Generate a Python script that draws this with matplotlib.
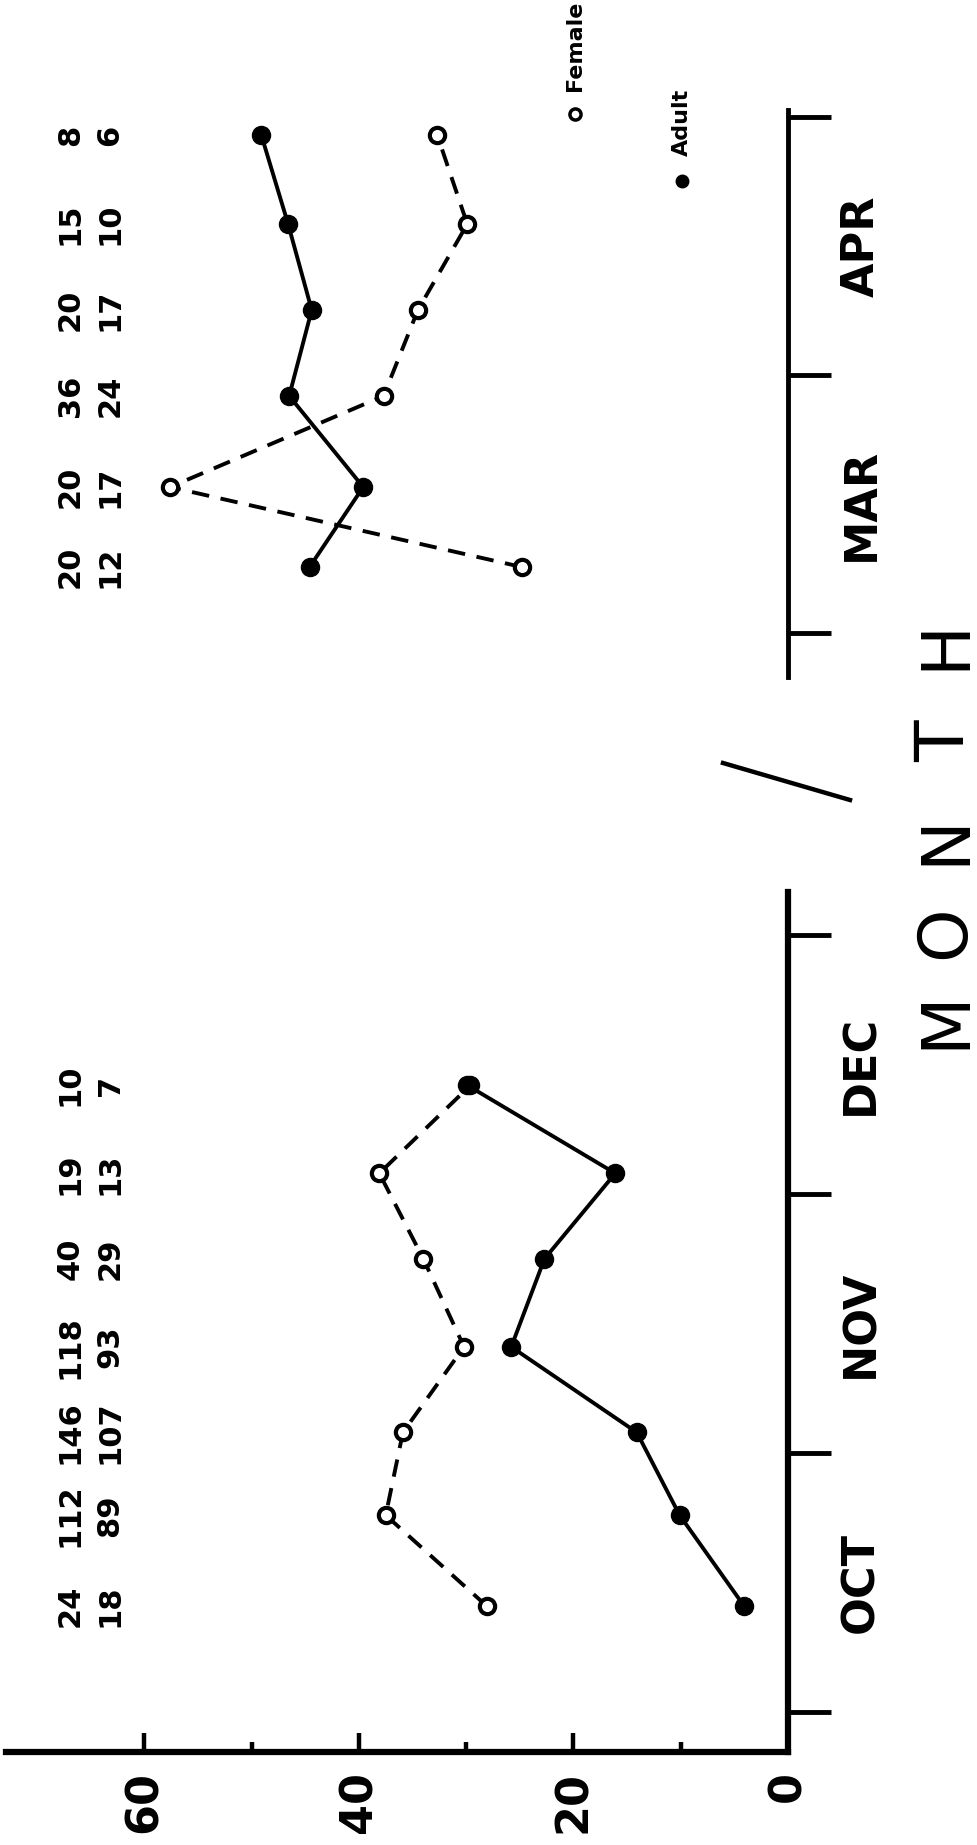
import matplotlib
matplotlib.use('Agg')
import matplotlib.pyplot as plt
from matplotlib.lines import Line2D

# positions are in months: 0 = first of OCT (left block) / first of MAR (right block)
fall_t = [0.41, 0.76, 1.08, 1.41, 1.75, 2.08, 2.42]
fall_adult = [4.1, 10.1, 14.1, 25.8, 22.7, 16.1, 29.9]
fall_female = [28.1, 37.5, 35.9, 30.2, 34.0, 38.1, 29.6]
fall_n1 = ['24', '112', '146', '118', '40', '19', '10']
fall_n2 = ['18', '89', '107', '93', '29', '13', '7']
fall_months = ['OCT', 'NOV', 'DEC']

spring_t = [0.256, 0.566, 0.919, 1.252, 1.585, 1.93]
spring_adult = [44.6, 39.6, 46.5, 44.4, 46.6, 49.1]
spring_female = [24.8, 57.6, 37.7, 34.5, 29.9, 32.7]
spring_n1 = ['20', '20', '36', '20', '15', '8']
spring_n2 = ['12', '17', '24', '17', '10', '6']
spring_months = ['MAR', 'APR']

pct_ticks = [0, 20, 40, 60]
pct_minor = [10, 30, 50]

W, H = 978, 1845
fig = plt.figure(figsize=(W / 100, H / 100), dpi=100)

def px_box(left, right, top, bottom):
    return [left / W, 1 - bottom / H, (right - left) / W, (bottom - top) / H]

ax1 = fig.add_axes(px_box(6, 788, 892, 1752))
ax2 = fig.add_axes(px_box(6, 788, 110, 677))
ax1.set_ylim(-0.154, 3.166)
ax2.set_ylim(-0.17, 2.027)

bold = dict(family='DejaVu Sans', weight='bold')


def panel(ax, t, adult, female, n1, n2, months, spine_w):
    ax.set_xlim(72.9, 0)
    ax.patch.set_visible(False)
    for s in ['left', 'top', 'bottom']:
        ax.spines[s].set_visible(False)
    ax.spines['right'].set_linewidth(spine_w)

    ax.plot(female, t, color='black', lw=2.8, dashes=(4.5, 3.0),
            marker='o', ms=11, mfc='white', mec='black', mew=3, zorder=3)
    ax.plot(adult, t, color='black', lw=2.8, marker='o', ms=13,
            mfc='black', mec='black', zorder=4)

    for ti, a, b in zip(t, n1, n2):
        ax.text(66.9, ti, a, rotation=90, ha='center', va='center',
                fontsize=22, **bold)
        ax.text(63.2, ti, b, rotation=90, ha='center', va='center',
                fontsize=22, **bold)

    ax.yaxis.tick_right()
    ax.set_yticks(range(len(months) + 1))
    ax.set_yticklabels([])
    ax.set_yticks([i + 0.5 for i in range(len(months))], minor=True)
    ax.set_yticklabels(months, minor=True, rotation=90, va='center',
                       fontsize=32, **bold)
    ax.tick_params(axis='y', which='major', direction='out', length=31,
                   width=3.5, color='black')
    ax.tick_params(axis='y', which='minor', length=0, pad=37)


panel(ax1, fall_t, fall_adult, fall_female, fall_n1, fall_n2, fall_months, 4.5)
panel(ax2, spring_t, spring_adult, spring_female, spring_n1, spring_n2,
      spring_months, 3.5)

# percent axis only on the lower block
ax1.spines['bottom'].set_visible(True)
ax1.spines['bottom'].set_linewidth(4.5)
ax1.set_xticks(pct_ticks)
ax1.set_xticklabels([str(v) for v in pct_ticks], rotation=90, fontsize=32,
                    **bold)
ax1.set_xticks(pct_minor, minor=True)
ax1.tick_params(axis='x', which='major', direction='in', length=14,
                width=3.2, pad=14)
ax1.tick_params(axis='x', which='minor', direction='in', length=7, width=3.2)
ax2.set_xticks([])

# legend
ax2.plot([19.9], [2.01], marker='o', ms=8, mfc='white', mec='black', mew=2.5,
         clip_on=False)
ax2.text(19.9, 2.10, 'Female', rotation=90, ha='center', va='bottom',
         fontsize=16, **bold)
ax2.plot([9.9], [1.75], marker='o', ms=9, color='black', clip_on=False)
ax2.text(9.9, 1.85, 'Adult', rotation=90, ha='center', va='bottom',
         fontsize=16, **bold)

# axis break mark
fig.add_artist(Line2D([723 / W, 850 / W], [1 - 763 / H, 1 - 800 / H],
                      color='black', lw=3.2))

# MONTH, letters spread out
for ch, y in zip('MONTH', [1020, 932, 840, 741, 645]):
    fig.text(945 / W, 1 - y / H, ch, rotation=90, ha='center', va='center',
             fontsize=49, family='DejaVu Sans')

fig.savefig('out.png', dpi=100)
